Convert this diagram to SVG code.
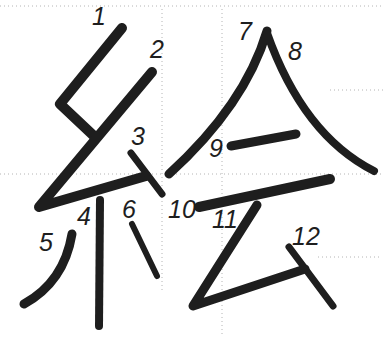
<svg xmlns="http://www.w3.org/2000/svg" width="384" height="337" viewBox="0 0 384 337">
<style>
.g{stroke:#b4b4b4;stroke-width:1;stroke-dasharray:1 3;fill:none}
.s{stroke:#1e1e1e;fill:none;stroke-linecap:round;stroke-linejoin:round}
.n{font-family:"Liberation Sans",Arial,sans-serif;font-size:25px;font-style:italic;fill:#1e1e1e;text-anchor:middle}
</style>
<rect width="384" height="337" fill="#ffffff"/>
<g id="guides">
<line class="g" x1="0" y1="6" x2="384" y2="6"/>
<line class="g" x1="0" y1="174" x2="384" y2="174"/>
<line class="g" x1="330" y1="90" x2="384" y2="90"/>
<line class="g" x1="318" y1="257" x2="380" y2="257"/>
<line class="g" x1="162" y1="9" x2="162" y2="290"/>
<line class="g" x1="222" y1="9" x2="222" y2="337"/>
</g>
<g id="strokes">
<path id="s1" class="s" stroke-width="10" d="M122,28 L60,104 L95,137"/>
<path id="s2" class="s" stroke-width="10" d="M152,72 L39,207 L146,176"/>
<path id="s3" class="s" stroke-width="7" d="M131,153 L162,194"/>
<path id="s4" class="s" stroke-width="8" d="M100,200 L99,326"/>
<path id="s5" class="s" stroke-width="9" d="M72,234 Q64,282 24,304"/>
<path id="s6" class="s" stroke-width="6" d="M132,224 L157,276"/>
<path id="s7" class="s" stroke-width="9" d="M267,31 Q245,105 169,174"/>
<path id="s8" class="s" stroke-width="8" d="M267,33 Q303,135 374,171"/>
<path id="s9" class="s" stroke-width="9" d="M231,146 L296,134"/>
<path id="s10" class="s" stroke-width="10" d="M199,207 L330,179"/>
<path id="s11" class="s" stroke-width="9" d="M257,205 L193,306 L305,269"/>
<path id="s12" class="s" stroke-width="7" d="M289,247 L333,306"/>
</g>
<g id="labels">
<text class="n" x="99" y="25">1</text>
<text class="n" x="157" y="58">2</text>
<text class="n" x="138" y="145">3</text>
<text class="n" x="84" y="225">4</text>
<text class="n" x="46" y="251">5</text>
<text class="n" x="129" y="218">6</text>
<text class="n" x="245" y="40">7</text>
<text class="n" x="295" y="60">8</text>
<text class="n" x="216" y="157">9</text>
<text class="n" x="182" y="218">10</text>
<text class="n" x="225" y="228">11</text>
<text class="n" x="306" y="245">12</text>
</g>
</svg>
